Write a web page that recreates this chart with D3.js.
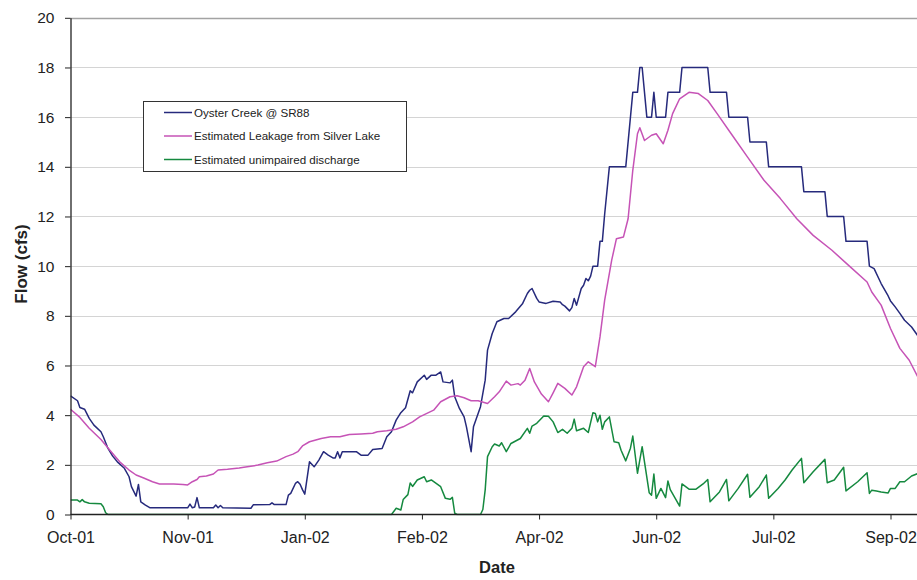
<!DOCTYPE html>
<html>
<head>
<meta charset="utf-8">
<script src="https://cdn.jsdelivr.net/npm/d3@7"></script>
<style>
  html, body { margin: 0; padding: 0; background: #fff; }
  svg { display: block; font-family: "Liberation Sans", Arial, sans-serif; }
</style>
</head>
<body>
<svg id="chart" width="917" height="580"></svg>
<script>
// Daily flows, water year 2001-02. Each point: [day since 1 Oct 2001, flow in cfs].
const startDate = Date.UTC(2001, 9, 1);

const oysterCreek = [
  [0,4.78],[3,4.58],[4,4.31],[6,4.24],[8,3.87],[10,3.6],[13,3.33],[14,3.13],[16,2.66],[18,2.35],
  [20,2.12],[23,1.86],[25,1.52],[26,1.12],[28,0.74],[29,1.21],[30,0.51],[32,0.38],[34,0.27],
  [50,0.27],[51,0.42],[52,0.27],[53,0.3],[54,0.68],[55,0.27],[61,0.27],[62,0.38],[63,0.27],
  [64,0.36],[65,0.27],[77,0.25],[78,0.39],[85,0.4],[86,0.47],[87,0.4],[92,0.4],[93,0.78],
  [94,0.85],[96,1.25],[97,1.32],[98,1.22],[99,1.0],[100,0.82],[102,2.12],[104,1.92],[106,2.19],
  [108,2.53],[110,2.39],[112,2.28],[113,2.28],[114,2.53],[115,2.28],[116,2.53],[122,2.53],
  [124,2.39],[127,2.39],[129,2.62],[133,2.66],[135,3.13],[137,3.33],[139,3.8],[141,4.1],
  [143,4.3],[145,4.98],[146,4.9],[148,5.34],[151,5.61],[152,5.44],[154,5.61],[156,5.61],
  [158,5.74],[159,5.34],[162,5.3],[163,5.41],[164,4.74],[166,4.27],[168,3.93],[169,3.53],
  [171,2.53],[172,3.53],[175,4.34],[177,5.41],[178,6.62],[180,7.29],[182,7.76],[185,7.89],
  [187,7.89],[190,8.16],[193,8.5],[195,8.9],[196,9.03],[197,9.1],[199,8.7],[200,8.56],
  [203,8.5],[206,8.59],[209,8.56],[210,8.45],[211,8.39],[213,8.2],[214,8.33],[215,8.7],
  [216,8.43],[218,9.1],[219,9.23],[220,9.5],[221,9.41],[222,9.6],[223,10],[225,10],[226,11],
  [227,11],[228,12.1],[230,14],[237,14],[240,17],[242,17],[243,18],[244,18],[246,16],[248,16],
  [249,17],[250,16],[254,16],[255,17],[260,17],[261,18],[272,18],[273,17],[280,17],[281,16],
  [289,16],[290,15],[297,15],[298,14],[312,14],[313,13],[322,13],[323,12],[330,12],[331,11],
  [340,11],[341,10],[343,9.9],[346,9.3],[349,8.8],[350,8.6],[352,8.36],[354,8.1],[356,7.82],
  [359,7.55],[362,7.15]
];

const silverLakeLeakage = [
  [0,4.24],[4,3.91],[8,3.47],[13,3.02],[17,2.57],[21,2.12],[25,1.79],[28,1.59],[31,1.48],
  [35,1.32],[38,1.23],[44,1.23],[48,1.21],[50,1.19],[52,1.32],[54,1.41],[55,1.52],[58,1.55],
  [61,1.63],[63,1.79],[67,1.82],[72,1.87],[74,1.9],[80,1.99],[84,2.08],[88,2.15],[92,2.33],
  [95,2.43],[97,2.53],[99,2.76],[102,2.93],[107,3.06],[111,3.13],[115,3.13],[119,3.22],
  [124,3.24],[129,3.27],[131,3.33],[135,3.37],[139,3.43],[142,3.53],[146,3.73],[149,3.93],
  [155,4.2],[158,4.54],[162,4.74],[165,4.78],[168,4.7],[171,4.58],[174,4.58],[178,4.47],
  [181,4.74],[183,4.94],[186,5.37],[188,5.21],[191,5.27],[192,5.21],[194,5.41],[196,5.88],
  [198,5.34],[201,4.85],[204,4.54],[206,4.9],[208,5.28],[211,5.08],[214,4.81],[216,5.14],
  [219,5.95],[221,6.15],[224,5.95],[226,7.15],[228,8.63],[231,10.24],[233,11.1],[236,11.17],
  [238,11.91],[240,13.86],[242,15.33],[243,15.57],[245,15.06],[248,15.27],[250,15.33],
  [253,14.93],[255,15.47],[257,16.14],[260,16.74],[264,17.0],[268,16.95],[272,16.67],
  [276,16.14],[282,15.33],[289,14.39],[296,13.46],[303,12.72],[310,11.91],[317,11.24],
  [325,10.64],[332,10.04],[340,9.36],[342,8.96],[346,8.43],[350,7.49],[354,6.69],[358,6.21],
  [362,5.48]
];

const unimpairedDischarge = [
  [0,0.58],[3,0.58],[4,0.51],[5,0.6],[6,0.51],[8,0.45],[13,0.43],[14,0.31],[15,0.07],[16,0],
  [137,0],[139,0.25],[141,0.18],[142,0.6],[144,0.8],[145,1.27],[146,1.13],[148,1.39],
  [151,1.52],[152,1.32],[154,1.39],[158,1.12],[160,0.65],[162,0.61],[163,0.69],[164,0.05],
  [165,0],[175,0],[176,0.2],[177,0.99],[178,2.33],[180,2.73],[181,2.84],[183,2.76],[184,2.89],
  [186,2.53],[188,2.86],[192,3.06],[195,3.47],[196,3.27],[197,3.56],[199,3.67],[202,3.97],
  [204,3.96],[206,3.73],[208,3.3],[210,3.43],[212,3.27],[214,3.47],[215,3.84],[216,3.37],
  [219,3.47],[221,3.3],[223,4.1],[224,4.07],[225,3.73],[226,4.0],[227,3.43],[228,3.73],
  [230,3.93],[232,2.93],[234,2.89],[235,2.59],[237,2.16],[239,2.67],[240,3.16],[242,1.66],
  [244,2.73],[247,0.88],[248,0.78],[249,1.63],[250,0.65],[252,1.05],[254,0.68],[255,1.35],
  [256,1.0],[260,0.34],[261,1.23],[264,1.02],[267,1.02],[269,1.16],[270,1.23],[272,1.41],
  [273,0.51],[277,0.91],[280,1.41],[281,0.55],[285,1.05],[289,1.62],[290,0.69],[294,1.12],
  [297,1.59],[298,0.65],[302,1.05],[305,1.39],[308,1.79],[312,2.26],[313,1.28],[317,1.72],
  [322,2.22],[323,1.28],[326,1.39],[330,1.9],[331,0.95],[336,1.32],[340,1.68],[341,0.85],
  [342,0.98],[344,0.95],[346,0.91],[349,0.87],[350,1.05],[352,1.05],[354,1.32],[356,1.32],
  [359,1.55],[362,1.66]
];

// Axis ticks: every 50 days from the start of the record, and flow 0-20 by 2.
const tickDays = [0, 50, 100, 150, 200, 250, 300, 350];
const flowTicks = [0, 2, 4, 6, 8, 10, 12, 14, 16, 18, 20];

const seriesNames = ["Oyster Creek @ SR88", "Estimated Leakage from Silver Lake", "Estimated unimpaired discharge"];
const seriesColors = ["#262a7c", "#c653b6", "#15893f"];

const svg = d3.select("#chart");
const chartW = 917;
const plotLeft = 70.5, plotBottom = 514.5, plotTop = 17.8;

const toDate = d => new Date(startDate + d * 86400000);

const x = d3.scaleUtc()
  .domain([toDate(0), toDate(350)])
  .range([plotLeft, 890.5]);

const y = d3.scaleLinear()
  .domain([0, 20])
  .range([plotBottom, plotTop]);

// Horizontal gridlines
svg.append("g")
  .selectAll("line")
  .data(flowTicks.filter(v => v > 0))
  .join("line")
  .attr("x1", plotLeft).attr("x2", chartW)
  .attr("y1", d => Math.round(y(d)) + 0.5).attr("y2", d => Math.round(y(d)) + 0.5)
  .attr("stroke", d => d === 20 ? "#a3a3a3" : "#d4d4d4")
  .attr("stroke-width", d => d === 20 ? 1.5 : 1);

// Series lines
svg.append("defs").append("clipPath").attr("id", "plot-clip")
  .append("rect").attr("x", plotLeft).attr("y", 0).attr("width", chartW - plotLeft).attr("height", plotBottom + 1);

const line = d3.line()
  .x(d => x(toDate(d[0])))
  .y(d => y(d[1]));

const plot = svg.append("g").attr("clip-path", "url(#plot-clip)");
[oysterCreek, silverLakeLeakage, unimpairedDischarge].forEach((s, i) => {
  plot.append("path")
    .datum(s)
    .attr("fill", "none")
    .attr("stroke", seriesColors[i])
    .attr("stroke-width", 1.5)
    .attr("stroke-linejoin", "round")
    .attr("d", line);
});

// Y axis
const yAxis = svg.append("g")
  .attr("transform", `translate(${plotLeft},0)`)
  .call(d3.axisLeft(y).tickValues(flowTicks).tickSize(5.5).tickPadding(10.5).tickSizeOuter(0));
yAxis.select(".domain").attr("stroke", "#222").attr("stroke-width", 1.3);
yAxis.selectAll(".tick line").attr("stroke", "#222");
yAxis.selectAll("text").attr("font-size", 15.5).attr("fill", "#222")
  .attr("font-family", "'Liberation Sans', Arial, sans-serif");

// X axis
const xAxis = svg.append("g")
  .attr("transform", `translate(0,${plotBottom})`)
  .call(d3.axisBottom(x)
    .tickValues(tickDays.map(toDate))
    .tickFormat(d3.utcFormat("%b-%y"))
    .tickSize(5)
    .tickPadding(12.5)
    .tickSizeOuter(0));
xAxis.select(".domain").remove();
xAxis.append("line").attr("x1", plotLeft).attr("x2", chartW).attr("y1", 0).attr("y2", 0)
  .attr("stroke", "#222").attr("stroke-width", 1.5);
xAxis.selectAll(".tick line").attr("stroke", "#222");
xAxis.selectAll("text").attr("font-size", 16).attr("fill", "#222")
  .attr("font-family", "'Liberation Sans', Arial, sans-serif");

// Axis titles
svg.append("text")
  .attr("x", 497).attr("y", 573)
  .attr("text-anchor", "middle")
  .attr("font-size", 16.5).attr("font-weight", "bold").attr("fill", "#222")
  .text("Date");

svg.append("text")
  .attr("transform", "translate(26.5,264) rotate(-90)")
  .attr("text-anchor", "middle")
  .attr("font-size", 17).attr("font-weight", "bold").attr("fill", "#222")
  .text("Flow (cfs)");

// Legend
const legend = svg.append("g");
legend.append("rect")
  .attr("x", 143.5).attr("y", 101.5).attr("width", 263).attr("height", 70)
  .attr("fill", "#fff").attr("stroke", "#333").attr("stroke-width", 1);
const rowY = [112.5, 136, 159.5];
seriesNames.forEach((name, i) => {
  legend.append("line")
    .attr("x1", 164).attr("x2", 192)
    .attr("y1", rowY[i]).attr("y2", rowY[i])
    .attr("stroke", seriesColors[i]).attr("stroke-width", 1.5);
  legend.append("text")
    .attr("x", 194).attr("y", rowY[i]).attr("dy", "0.35em")
    .attr("font-size", 11.6).attr("fill", "#222")
    .text(name);
});
</script>
</body>
</html>
